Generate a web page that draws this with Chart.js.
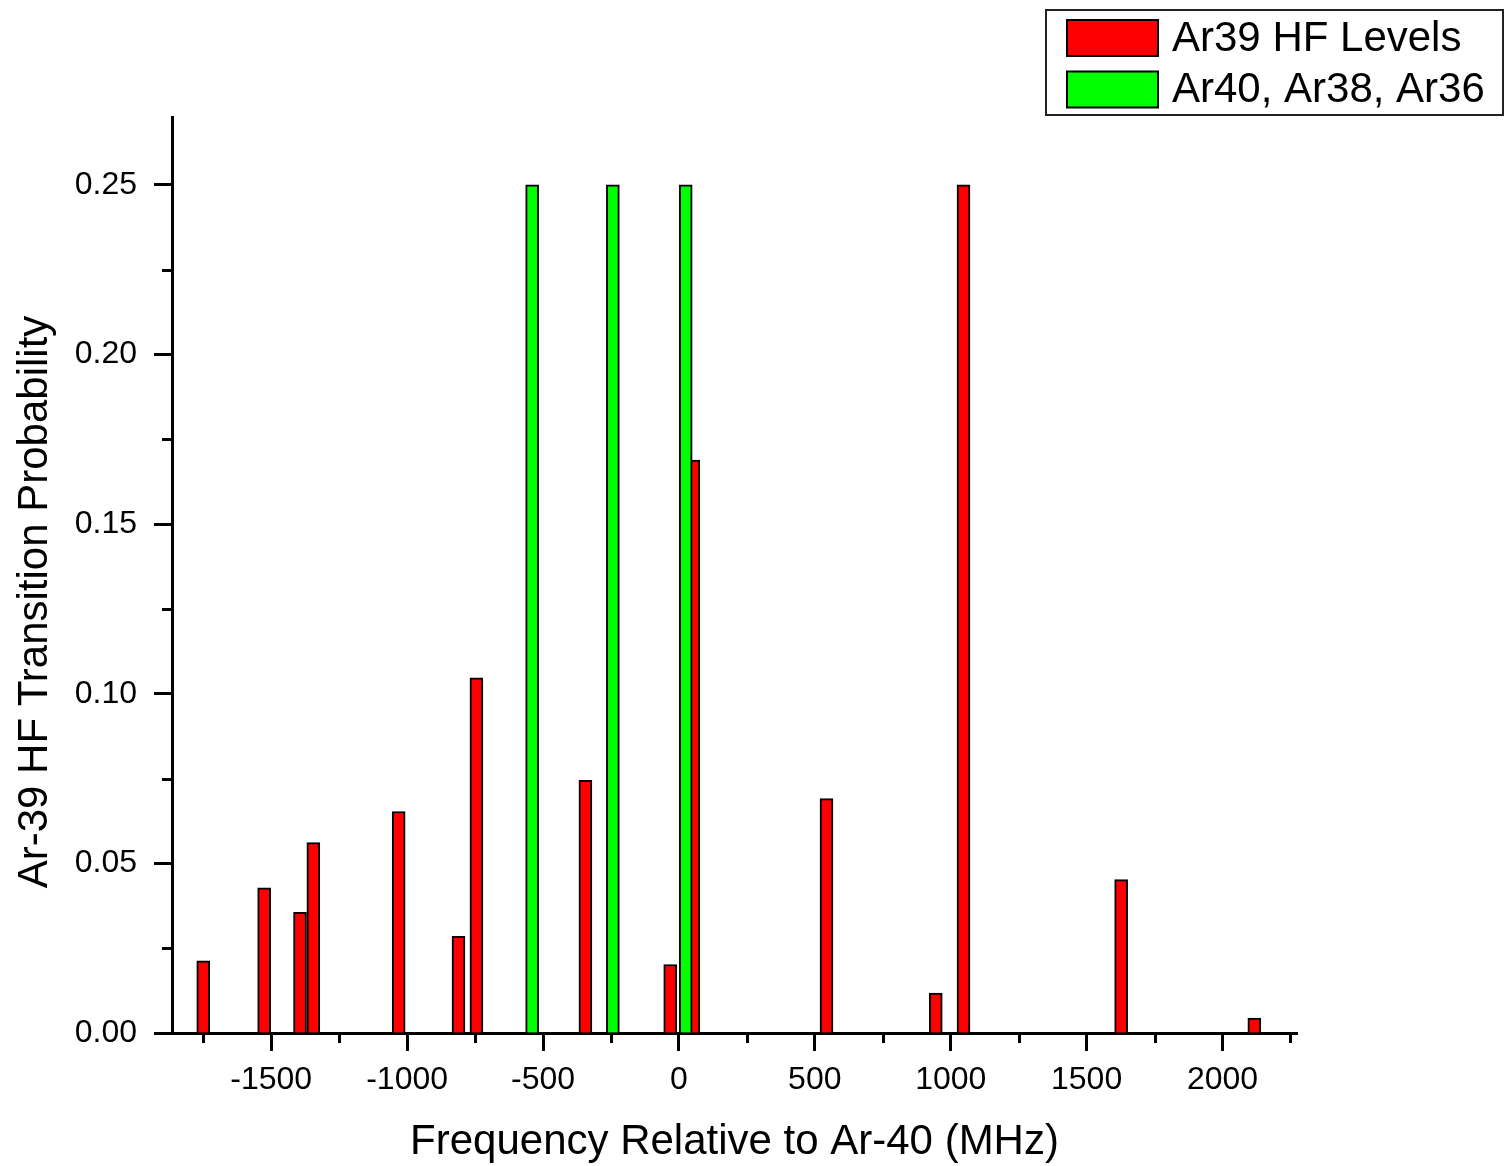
<!DOCTYPE html>
<html>
<head>
<meta charset="utf-8">
<script src="https://cdn.jsdelivr.net/npm/chart.js@4.4.0/dist/chart.umd.min.js"></script>
<style>
  html, body { margin: 0; padding: 0; background: #fff; }
  #wrap { width: 1506px; height: 1166px; position: relative; }
</style>
</head>
<body>
<div id="wrap"><canvas id="c" width="1506" height="1166"></canvas></div>
<script>
// ---- data ----
const ar39Freq = [-1750, -1526, -1394, -1345, -1031, -811, -745, -344, -32, 53, 543, 945, 1047, 1627, 2117];
const ar39Prob = [0.0213, 0.0428, 0.0356, 0.0561, 0.0653, 0.0285, 0.1047, 0.0745, 0.0202, 0.1689, 0.0691, 0.0118, 0.25, 0.0452, 0.0044];
const evenFreq = [-540, -243, 25];
const evenProb = [0.25, 0.25, 0.25];
const xTicks = [-1500, -1000, -500, 0, 500, 1000, 1500, 2000];
const xMinorTicks = [-1750, -1250, -750, -250, 250, 750, 1250, 1750, 2250];
const yTicks = [0, 0.05, 0.10, 0.15, 0.20, 0.25];
const yMinorTicks = [0.025, 0.075, 0.125, 0.175, 0.225];
const seriesLabels = ['Ar39 HF Levels', 'Ar40, Ar38, Ar36'];
const xTitle = 'Frequency Relative to Ar-40 (MHz)';
const yTitle = 'Ar-39 HF Transition Probability';

const FONT = "'Liberation Sans', Arial, Helvetica, sans-serif";
Chart.defaults.font.family = FONT;
Chart.defaults.color = '#000';

const minorTicksPlugin = {
  id: 'minorTicks',
  afterDraw(chart) {
    const ctx = chart.ctx, xs = chart.scales.x, ys = chart.scales.y, a = chart.chartArea;
    ctx.save();
    ctx.strokeStyle = '#000';
    ctx.lineWidth = 3;
    ctx.beginPath();
    xMinorTicks.forEach(v => {
      const px = Math.round(xs.getPixelForValue(v)) + 0.5;
      ctx.moveTo(px, a.bottom);
      ctx.lineTo(px, a.bottom + 10);
    });
    yMinorTicks.forEach(v => {
      const py = Math.round(ys.getPixelForValue(v)) + 0.5;
      ctx.moveTo(a.left - 10, py);
      ctx.lineTo(a.left, py);
    });
    ctx.stroke();
    ctx.restore();
  }
};

const yTitlePlugin = {
  id: 'yTitle',
  afterDraw(chart) {
    const ctx = chart.ctx;
    ctx.save();
    ctx.translate(47, 602);
    ctx.rotate(-Math.PI / 2);
    ctx.font = '42px ' + FONT;
    ctx.fillStyle = '#000';
    ctx.textAlign = 'center';
    ctx.textBaseline = 'alphabetic';
    ctx.fillText(yTitle, 0, 0);
    ctx.restore();
  }
};

const boxLegendPlugin = {
  id: 'boxLegend',
  afterDraw(chart) {
    const ctx = chart.ctx;
    ctx.save();
    ctx.lineWidth = 2;
    ctx.strokeStyle = '#222';
    ctx.strokeRect(1046, 10, 457, 105);
    chart.data.datasets.forEach((d, i) => {
      const top = 20 + i * 51.5;
      ctx.fillStyle = d.backgroundColor;
      ctx.fillRect(1067, top, 91, 36);
      ctx.strokeStyle = '#000';
      ctx.lineWidth = 2;
      ctx.strokeRect(1067, top, 91, 36);
      ctx.fillStyle = '#000';
      ctx.font = '42px ' + FONT;
      ctx.textAlign = 'left';
      ctx.textBaseline = 'middle';
      ctx.fillText(d.label, 1172, top + 19);
    });
    ctx.restore();
  }
};

new Chart(document.getElementById('c'), {
  type: 'bar',
  data: {
    datasets: [
      {
        label: seriesLabels[0],
        data: ar39Freq.map((x, i) => ({ x: x, y: ar39Prob[i] })),
        backgroundColor: '#FF0000',
        borderColor: '#000',
        borderWidth: 2,
        barThickness: 13,
        grouped: false,
        order: 1
      },
      {
        label: seriesLabels[1],
        data: evenFreq.map((x, i) => ({ x: x, y: evenProb[i] })),
        backgroundColor: '#00FF00',
        borderColor: '#000',
        borderWidth: 2,
        barThickness: 13,
        grouped: false,
        order: 0
      }
    ]
  },
  options: {
    responsive: false,
    devicePixelRatio: 1,
    animation: false,
    layout: { padding: { top: 117, right: 209, bottom: 0, left: 0 } },
    plugins: {
      legend: { display: false },
      tooltip: { enabled: false }
    },
    scales: {
      x: {
        type: 'linear',
        min: -1865,
        max: 2274,
        offset: false,
        z: 1,
        afterBuildTicks: s => { s.ticks = xTicks.map(v => ({ value: v })); },
        afterFit: s => { s.height = 133; },
        ticks: {
          font: { size: 32 },
          color: '#000',
          padding: 10,
          maxRotation: 0,
          autoSkip: false,
          callback: v => String(v)
        },
        grid: {
          offset: false,
          drawOnChartArea: false,
          drawTicks: true,
          tickLength: 18,
          tickWidth: 3,
          tickColor: '#000'
        },
        border: { display: true, color: '#000', width: 3 },
        title: {
          display: true,
          text: xTitle,
          font: { size: 42, lineHeight: 1 },
          color: '#000',
          padding: { top: 0, bottom: 3 }
        }
      },
      y: {
        type: 'linear',
        min: 0,
        max: 0.27,
        z: 1,
        afterBuildTicks: s => { s.ticks = yTicks.map(v => ({ value: v })); },
        afterFit: s => { s.width = 172; },
        ticks: {
          font: { size: 32 },
          color: '#000',
          padding: 17,
          autoSkip: false,
          callback: v => Number(v).toFixed(2)
        },
        grid: {
          drawOnChartArea: false,
          drawTicks: true,
          tickLength: 18,
          tickWidth: 3,
          tickColor: '#000'
        },
        border: { display: true, color: '#000', width: 3 },
        title: { display: false }
      }
    }
  },
  plugins: [minorTicksPlugin, yTitlePlugin, boxLegendPlugin]
});
</script>
</body>
</html>
